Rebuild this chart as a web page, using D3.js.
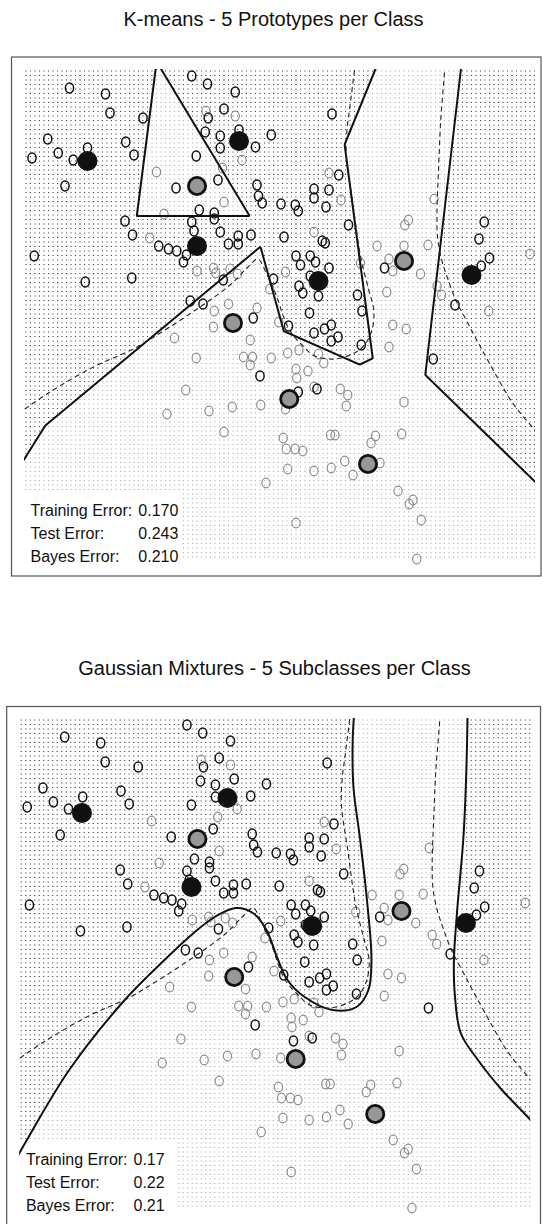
<!DOCTYPE html>
<html>
<head>
<meta charset="utf-8">
<script src="https://cdn.jsdelivr.net/npm/d3@7"></script>
<style>
  html, body { margin: 0; padding: 0; background: #fff; }
  svg { display: block; font-family: "Liberation Sans", Arial, Helvetica, sans-serif; }
</style>
</head>
<body>
<svg id="chart" width="543" height="1224"></svg>
<script>
// ---- Training data (x1, x2): class 0 (black rings) ----
const class0Points = [
  [-2.02,2.71],[-1.54,2.65],[-1.48,2.46],[-1.04,2.41],[-2.31,2.20],[-2.17,2.06],[-2.52,2.01],[-1.97,1.99],
  [-1.78,2.11],[-1.27,2.17],[-1.16,2.04],[-2.08,1.73],[-0.39,2.83],[-0.18,2.75],[0.19,2.67],[0.04,2.50],
  [-0.17,2.41],[-0.21,2.27],[-0.01,2.23],[-0.01,2.11],[0.24,2.29],[0.46,2.12],[0.67,2.24],[-0.33,2.03],
  [-0.60,1.71],[-0.04,1.79],[0.48,1.74],[0.50,1.63],[0.55,1.56],[-0.29,1.49],[-0.09,1.46],[-0.09,1.40],
  [-1.28,1.38],[-0.39,1.37],[-1.18,1.24],[-0.83,1.13],[-0.70,1.10],[-0.59,1.08],[-0.46,1.04],[-0.50,0.97],
  [-0.36,1.28],[-0.01,1.27],[0.10,1.15],[0.23,1.23],[0.23,1.15],[0.40,1.24],[-2.49,1.03],[-1.81,0.77],
  [-1.19,0.81],[0.03,0.79],[-0.41,0.58],[-0.24,0.55],[0.70,0.80],
  [1.48,2.45],[1.57,1.84],[1.24,1.70],[1.24,1.61],[1.44,1.69],[0.80,1.55],[0.99,1.54],[1.03,1.48],
  [1.40,1.52],[1.70,1.34],[0.84,1.22],[1.35,1.18],[1.39,1.16],[1.00,1.03],[1.06,0.94],[1.19,1.03],
  [1.26,0.97],[1.44,0.91],[1.04,0.73],[1.09,0.66],[1.19,0.83],[1.30,0.63],[1.18,0.46],[1.82,0.64],
  [1.88,0.48],[2.18,0.91],[3.12,0.54],[3.51,1.37],[3.44,1.20],[3.58,1.01],[3.47,0.93],
  [0.90,0.33],[1.24,0.26],[1.38,0.30],[1.47,0.34],[1.47,0.18],[1.56,0.22],[1.87,0.14],[1.28,-0.30],
  [2.83,0.00],[1.03,-0.33],[0.43,0.41],[0.52,-0.17]
];

// ---- Training data (x1, x2): class 1 (gray rings) ----
const class1Points = [
  [-0.20,2.48],[0.19,2.43],[0.28,1.99],[-0.86,1.87],[0.02,1.91],[0.04,1.57],[-0.76,1.45],[-0.95,1.21],
  [-0.32,0.88],[-0.10,0.91],[-0.07,0.86],[0.12,0.90],[0.22,0.85],[-0.09,0.48],[0.10,0.55],[0.48,0.51],
  [0.65,0.70],
  [1.44,1.86],[1.60,1.59],[1.24,1.27],[0.86,0.87],[1.86,0.96],[2.08,1.13],[2.45,1.34],[2.50,1.39],
  [2.44,1.13],[2.24,1.00],[2.29,0.88],[2.66,0.85],[2.21,0.67],[2.76,1.14],[2.84,1.60],[2.88,0.73],
  [2.94,0.64],[4.12,1.05],[3.57,0.48],
  [-0.10,0.32],[-0.62,0.21],[0.39,0.19],[-0.33,0.01],[0.30,0.02],[0.42,0.02],[0.39,-0.06],[0.67,0.01],
  [-0.47,-0.31],[-0.72,-0.55],[-0.16,-0.52],[0.15,-0.48],[0.53,-0.46],[0.04,-0.73],[0.60,-1.24],
  [0.77,0.37],[2.29,0.34],[2.47,0.30],[2.24,0.12],[0.89,0.06],[1.04,0.09],[1.30,0.05],[1.37,-0.04],
  [1.00,-0.10],[1.16,-0.12],[1.01,-0.19],[1.24,-0.28],[1.59,-0.30],[1.69,-0.36],[1.67,-0.47],[2.44,-0.43],
  [0.83,-0.79],[0.87,-0.90],[0.99,-0.90],[1.09,-0.92],[1.46,-0.76],[1.52,-0.76],[2.06,-0.77],[2.00,-0.84],
  [2.41,-0.75],[0.89,-1.10],[1.24,-1.12],[1.47,-1.09],[1.65,-1.02],[1.76,-1.16],[2.12,-1.04],[2.36,-1.32],
  [2.51,-1.45],[2.56,-1.41],[2.67,-1.61],[1.00,-1.64],[2.61,-2.00],[0.86,-0.50]
];

// ---- K-means prototypes ----
const kmeansProto0 = [[-1.78,1.98],[0.24,2.18],[-0.32,1.13],[1.30,0.78],[3.34,0.84]];
const kmeansProto1 = [[-0.32,1.73],[2.44,0.98],[0.16,0.36],[0.91,-0.40],[1.96,-1.05]];

// ---- Gaussian mixture component means ----
const gmmProto0 = [[-1.79,1.95],[0.15,2.10],[-0.33,1.21],[1.28,0.82],[3.33,0.85]];
const gmmProto1 = [[-0.25,1.69],[2.47,0.97],[0.24,0.31],[1.06,-0.51],[2.12,-1.06]];

// ---- Gaussian mixture decision boundary ----
const gmmBoundaryLeft = [
  [-2.66,-1.50],[-2.54,-1.34],[-1.96,-0.62],[-1.22,0.08],[-0.69,0.48],[-0.30,0.75],[-0.02,0.91],
  [0.26,1.00],[0.49,0.95],[0.67,0.78],[0.81,0.51],[0.95,0.28],[1.18,0.11],[1.55,-0.02],[1.87,0.01],
  [2.03,0.18],[2.07,0.48],[2.01,1.08],[1.92,1.68],[1.83,2.21],[1.82,2.68],[1.84,2.95]
];
const gmmBoundaryRight = [
  [3.35,2.95],[3.35,2.86],[3.30,1.75],[3.21,0.95],[3.17,0.48],[3.18,0.15],[3.26,-0.25],[3.49,-0.52],
  [3.81,-0.82],[4.13,-1.07],[4.24,-1.16]
];

// ---- Bayes decision boundary ----
const bayesBoundaryMain = [
  [-2.71,-0.55],[-2.28,-0.33],[-1.70,-0.08],[-1.17,0.10],[-0.81,0.26],[-0.28,0.52],[0.12,0.74],
  [0.36,0.92],[0.49,1.00],[0.61,0.85],[0.74,0.63],[0.83,0.43],[0.92,0.28],[1.08,0.14],[1.25,0.03],
  [1.52,0.00],[1.75,0.05],[1.89,0.12],[2.00,0.26],[2.04,0.47],[1.97,0.69],[1.86,1.03],[1.75,1.60],
  [1.67,2.03],[1.68,2.29],[1.72,2.53],[1.79,2.95]
];
const bayesBoundaryRight = [
  [2.98,2.95],[2.98,2.88],[2.93,2.39],[2.90,1.89],[2.88,1.46],[2.89,1.20],[2.95,0.97],[3.03,0.79],
  [3.13,0.59],[3.27,0.39],[3.41,0.19],[3.57,-0.03],[3.88,-0.43],[4.16,-0.69],[4.25,-0.77]
];

// ---- Text ----
const kmeansTitle = "K-means - 5 Prototypes per Class";
const gmmTitle = "Gaussian Mixtures - 5 Subclasses per Class";
const errorLabels = ["Training Error:", "Test Error:", "Bayes Error:"];
const kmeansErrors = ["0.170", "0.243", "0.210"];
const gmmErrors = ["0.17", "0.22", "0.21"];

// ---- Prediction grid ----
const xDomain = [-2.6, 4.16];
const yDomain = [-2.0, 2.88];
const gridStepX = 0.06;
const gridStepY = 0.045;

// ---- Layout ----
const panels = [
  { id: "km", title: kmeansTitle, errors: kmeansErrors, proto0: kmeansProto0, proto1: kmeansProto1,
    kind: "kmeans", box: [11.5, 57, 541, 576], xRange: [26, 533], yRange: [559, 71],
    titleX: 273.5, titleY: 26, labelX: 30.5, valueX: 138.3, rowY: [515.5, 538.8, 562], legend: [183, 492] },
  { id: "gm", title: gmmTitle, errors: gmmErrors, proto0: gmmProto0, proto1: gmmProto1,
    kind: "gmm", box: [6.7, 706.5, 540.5, 1228], xRange: [21.2, 528.2], yRange: [1208, 720],
    titleX: 274.5, titleY: 675, labelX: 25.9, valueX: 133.5, rowY: [1164.5, 1187.8, 1211], legend: [178, 1141] }
];

const svg = d3.select("#chart");
const defs = svg.append("defs");

function drawPanel(cfg) {
  const x = d3.scaleLinear().domain(xDomain).range(cfg.xRange);
  const y = d3.scaleLinear().domain(yDomain).range(cfg.yRange);
  const g = svg.append("g");

  g.append("text").attr("x", cfg.titleX).attr("y", cfg.titleY)
    .attr("text-anchor", "middle").attr("font-size", 20).attr("fill", "#111")
    .text(cfg.title);

  g.append("rect")
    .attr("x", cfg.box[0]).attr("y", cfg.box[1])
    .attr("width", cfg.box[2] - cfg.box[0]).attr("height", cfg.box[3] - cfg.box[1])
    .attr("fill", "#fff").attr("stroke", "#555").attr("stroke-width", 1.2);

  const clipId = "clip-" + cfg.id;
  defs.append("clipPath").attr("id", clipId).append("rect")
    .attr("x", cfg.xRange[0] - 2).attr("y", cfg.yRange[1] - 2)
    .attr("width", cfg.xRange[1] - cfg.xRange[0] + 4)
    .attr("height", cfg.yRange[0] - cfg.yRange[1] + 4);

  const dotLayer = g.append("g");
  const pointLayer = g.append("g");
  const lineLayer = g.append("g").attr("clip-path", `url(#${clipId})`);
  const protoLayer = g.append("g");
  const textLayer = g.append("g");

  const smooth = d3.line().x(d => x(d[0])).y(d => y(d[1])).curve(d3.curveCatmullRom.alpha(0.5));

  // classifier returning 1 for class-1 region, 0 otherwise (pixel coordinates in)
  let classify;
  if (cfg.kind === "kmeans") {
    const field = (u, v) => {
      let d0 = Infinity, d1 = Infinity;
      for (const p of cfg.proto0) d0 = Math.min(d0, (u - p[0]) ** 2 + (v - p[1]) ** 2);
      for (const p of cfg.proto1) d1 = Math.min(d1, (u - p[0]) ** 2 + (v - p[1]) ** 2);
      return Math.sqrt(d0) - Math.sqrt(d1);
    };
    classify = (px, py) => field(x.invert(px), y.invert(py)) >= 0 ? 1 : 0;

    // nearest-prototype decision boundary traced as the zero contour
    const step = 1;
    const gx0 = cfg.xRange[0] - 8, gy0 = cfg.yRange[1] - 8;
    const nx = Math.ceil((cfg.xRange[1] - cfg.xRange[0] + 16) / step) + 1;
    const ny = Math.ceil((cfg.yRange[0] - cfg.yRange[1] + 16) / step) + 1;
    const vals = new Float64Array(nx * ny);
    for (let j = 0; j < ny; j++) for (let i = 0; i < nx; i++) {
      vals[j * nx + i] = field(x.invert(gx0 + i * step), y.invert(gy0 + j * step));
    }
    const contour = d3.contours().size([nx, ny]).thresholds([0])(vals)[0];
    const tr = d3.geoTransform({
      point(a, b) { this.stream.point(gx0 + (a - 0.5) * step, gy0 + (b - 0.5) * step); }
    });
    lineLayer.append("path").attr("d", d3.geoPath(tr)(contour))
      .attr("fill", "none").attr("stroke", "#111").attr("stroke-width", 2).attr("stroke-linejoin", "round");
  } else {
    const left = lineLayer.append("path").attr("d", smooth(gmmBoundaryLeft))
      .attr("fill", "none").attr("stroke", "#111").attr("stroke-width", 2);
    const right = lineLayer.append("path").attr("d", smooth(gmmBoundaryRight))
      .attr("fill", "none").attr("stroke", "#111").attr("stroke-width", 2);
    const sample = node => {
      const L = node.getTotalLength(), pts = [];
      for (let s = 0; s <= L; s += 1) { const p = node.getPointAtLength(s); pts.push([p.x, p.y]); }
      return pts;
    };
    const bottom = cfg.yRange[0] + 40;
    const region = [[cfg.xRange[0] - 40, bottom], ...sample(left.node()), ...sample(right.node()),
                    [cfg.xRange[1] + 40, bottom]];
    classify = (px, py) => d3.polygonContains(region, [px, py]) ? 1 : 0;
  }

  // Bayes boundary (dashed)
  [bayesBoundaryMain, bayesBoundaryRight].forEach(b => {
    lineLayer.append("path").attr("d", smooth(b))
      .attr("fill", "none").attr("stroke", "#222").attr("stroke-width", 1.1)
      .attr("stroke-dasharray", "5,3.5");
  });

  // background prediction grid
  let dark = "", light = "";
  const nCols = Math.round((xDomain[1] - xDomain[0]) / gridStepX);
  const nRows = Math.round((yDomain[1] - yDomain[0]) / gridStepY);
  for (let i = 0; i <= nCols; i++) {
    for (let j = 0; j <= nRows; j++) {
      const px = x(xDomain[0] + i * gridStepX), py = y(yDomain[1] - j * gridStepY);
      if (px < cfg.legend[0] && py > cfg.legend[1]) continue;
      const s = `M${(px - 0.55).toFixed(2)},${(py - 0.55).toFixed(2)}h1.1v1.1h-1.1z`;
      if (classify(px, py)) light += s; else dark += s;
    }
  }
  dotLayer.append("path").attr("d", dark).attr("fill", "#3a3a3a");
  dotLayer.append("path").attr("d", light).attr("fill", "#a8a8a8");

  // training points
  pointLayer.selectAll("ellipse.c1").data(class1Points).join("ellipse").attr("class", "c1")
    .attr("cx", d => x(d[0])).attr("cy", d => y(d[1])).attr("rx", 4.1).attr("ry", 4.9)
    .attr("fill", "none").attr("stroke", "#8c8c8c").attr("stroke-width", 1.2);
  pointLayer.selectAll("ellipse.c0").data(class0Points).join("ellipse").attr("class", "c0")
    .attr("cx", d => x(d[0])).attr("cy", d => y(d[1])).attr("rx", 4.1).attr("ry", 4.9)
    .attr("fill", "none").attr("stroke", "#111").attr("stroke-width", 1.5);

  // prototypes
  protoLayer.selectAll("circle.p0").data(cfg.proto0).join("circle").attr("class", "p0")
    .attr("cx", d => x(d[0])).attr("cy", d => y(d[1])).attr("r", 10).attr("fill", "#111");
  protoLayer.selectAll("circle.p1").data(cfg.proto1).join("circle").attr("class", "p1")
    .attr("cx", d => x(d[0])).attr("cy", d => y(d[1])).attr("r", 8.6)
    .attr("fill", "#979797").attr("stroke", "#111").attr("stroke-width", 2.8);

  // error summary
  errorLabels.forEach((lab, k) => {
    textLayer.append("text").attr("x", cfg.labelX).attr("y", cfg.rowY[k])
      .attr("font-size", 16).attr("fill", "#111").text(lab);
    textLayer.append("text").attr("x", cfg.valueX).attr("y", cfg.rowY[k])
      .attr("font-size", 16).attr("fill", "#111").text(cfg.errors[k]);
  });
}

panels.forEach(drawPanel);
</script>
</body>
</html>
